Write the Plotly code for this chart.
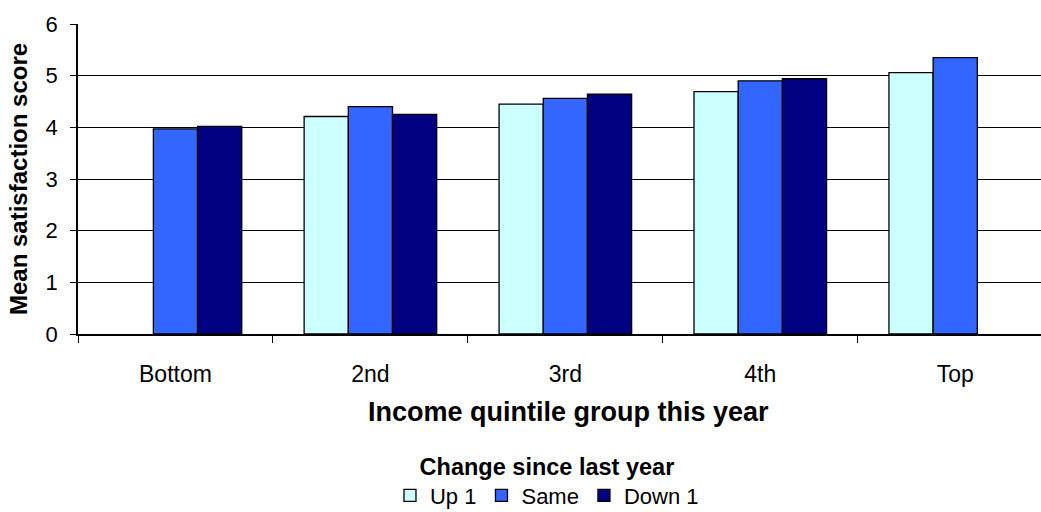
import plotly.graph_objects as go

categories = ["Bottom", "2nd", "3rd", "4th", "Top"]
up1 = [None, 4.21, 4.45, 4.69, 5.06]
same = [3.97, 4.40, 4.56, 4.90, 5.35]
down1 = [4.02, 4.25, 4.64, 4.94, None]
series_names = ["Up 1", "Same", "Down 1"]
series_colors = ["#CCFFFF", "#3366FF", "#000080"]

FONT = "Liberation Sans, Arial, sans-serif"

fig = go.Figure()
for name, vals, col in zip(series_names, [up1, same, down1], series_colors):
    fig.add_trace(go.Bar(
        x=categories, y=vals, name=name,
        marker=dict(color=col, line=dict(color="#000000", width=1.3)),
    ))

fig.update_layout(
    width=1041, height=512,
    margin=dict(l=78, r=0, t=24, b=178, autoexpand=False),
    paper_bgcolor="white", plot_bgcolor="white",
    barmode="group", bargap=0.32, bargroupgap=0,
    font=dict(family=FONT, color="#000000", size=22),
    showlegend=True,
    legend=dict(
        orientation="h", x=0.487, xanchor="center", y=-0.355, yanchor="top",
        font=dict(size=22, family=FONT),
        title=dict(text="<b>Change since last year</b>", side="top center",
                   font=dict(size=23.5, family=FONT)),
        itemwidth=30, tracegroupgap=0, bgcolor="rgba(0,0,0,0)",
    ),
    xaxis=dict(
        type="category", range=[-0.5, 4.44], automargin=False,
        showline=True, linecolor="#000000", linewidth=1.5,
        ticks="outside", tickson="boundaries", ticklen=7, tickcolor="#000000", tickwidth=1.3,
        showgrid=False, tickfont=dict(size=23, family=FONT),
        ticklabelstandoff=19,
    ),
    yaxis=dict(
        range=[0, 6], dtick=1, tick0=0, automargin=False,
        showline=True, linecolor="#000000", linewidth=1.5,
        ticks="outside", ticklen=6, tickcolor="#000000", tickwidth=1.3,
        showgrid=True, gridcolor="#000000", gridwidth=1.3,
        zeroline=False, tickfont=dict(size=22, family=FONT),
        ticklabelstandoff=8,
    ),
    annotations=[
        dict(text="<b>Mean satisfaction score</b>", textangle=-90,
             xref="paper", yref="paper", x=0, y=0.5, xshift=-60,
             xanchor="center", yanchor="middle", showarrow=False,
             font=dict(size=24, family=FONT)),
        dict(text="<b>Income quintile group this year</b>",
             xref="paper", yref="paper", x=0.509, y=0, yshift=-78,
             xanchor="center", yanchor="middle", showarrow=False,
             font=dict(size=27, family=FONT)),
    ],
)

fig.write_html("out.html")
